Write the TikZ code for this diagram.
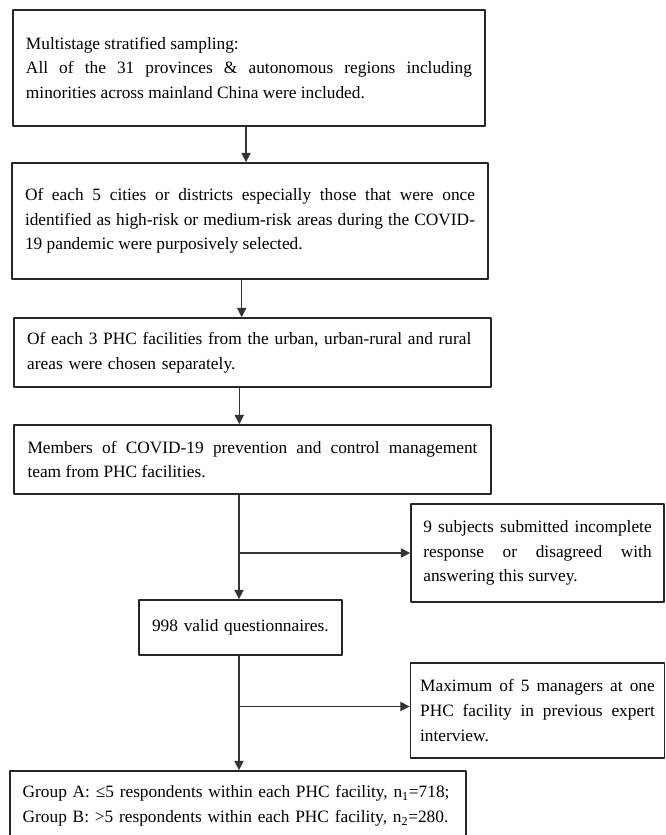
\documentclass[tikz,border=0pt]{standalone}
\usepackage{fontspec}
\setmainfont{Liberation Serif}
\usetikzlibrary{arrows.meta}
\begin{document}
\begin{tikzpicture}[x=0.75pt, y=-0.75pt, line join=round, >={Triangle[length=7pt,width=7pt]},
		font=\fontsize{13}{18.4}\selectfont,
		box/.style={draw, line width=1.3pt, black!85, text=black, inner sep=0pt, align=justify},
		link/.style={->, line width=0.8pt, black!80}]
		\useasboundingbox (0,0) rectangle (665,835);
		\clip (0,0) rectangle (665,835);
		% main column
		\node[box, minimum width=354pt, minimum height=87pt, text width=334.5pt] (box1) at (249,68) {Multistage stratified sampling:\\ All of the 31 provinces \& autonomous regions including\linebreak minorities across mainland China were included.};
		\node[box, minimum width=357pt, minimum height=87pt, text width=337.5pt] (box2) at (250,221) {Of each 5 cities or districts especially those that were once\linebreak identified as high-risk or medium-risk areas during the COVID-\linebreak 19 pandemic were purposively selected.};
		\node[box, align=left, minimum width=357.75pt, minimum height=51.75pt, text width=338pt] (box3) at (252.5,352.5) {Of each 3 PHC facilities from the urban, urban-rural and rural\\ areas were chosen separately.};
		\node[box, minimum width=357.75pt, minimum height=51.75pt, text width=337.5pt] (box4) at (252.5,459.5) {Members of COVID-19 prevention and control management\linebreak team from PHC facilities.};
		\node[box, align=left, minimum width=152.25pt, minimum height=41.25pt, text width=132.75pt] (valid) at (240.5,627.5) {998 valid questionnaires.};
		\node[box, align=left, minimum width=342pt, minimum height=52.5pt, text width=323pt] (groups) at (238,806) {Group A: ≤5 respondents within each PHC facility, n\textsubscript{1}=718;\\ Group B: >5 respondents within each PHC facility, n\textsubscript{2}=280.};
		% exclusions
		\node[box, minimum width=189.75pt, minimum height=73.5pt, text width=171.3pt] (excl1) at (537.5,553) {9 subjects submitted incomplete\linebreak response or disagreed with\linebreak answering this survey.};
		\node[box, minimum width=190.5pt, minimum height=71.25pt, text width=176pt] (excl2) at (537.5,710.5) {Maximum of 5 managers at one\linebreak PHC facility in previous expert\linebreak interview.};
		% arrows
		\foreach \a/\b/\xx in {box1/box2/246, box2/box3/241.7, box3/box4/239.3, box4/valid/239, valid/groups/239}{
			\draw[link] (\a.south -| \xx,0) -- (\b.north -| \xx,0);
		}
		\coordinate (br1) at (239,553);
		\coordinate (br2) at (239,706.5);
		\draw[link] (br1) -- (excl1.west |- br1);
		\draw[link] (br2) -- (excl2.west |- br2);
	\end{tikzpicture}
\end{document}
